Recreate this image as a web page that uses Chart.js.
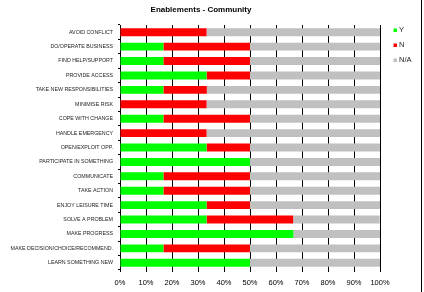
<!DOCTYPE html>
<html><head><meta charset="utf-8">
<script src="https://cdn.jsdelivr.net/npm/chart.js@4/dist/chart.umd.min.js"></script>
<style>html,body{margin:0;padding:0;background:#fff;}canvas{display:block;}</style>
</head><body>
<canvas id="c" width="424" height="292"></canvas>
<script>
const titleText = "Enablements - Community";
const categories = [
  "AVOID CONFLICT","DO/OPERATE BUSINESS","FIND HELP/SUPPORT","PROVIDE ACCESS",
  "TAKE NEW RESPONSIBILITIES","MINIMISE RISK","COPE WITH CHANGE","HANDLE EMERGENCY",
  "OPEN/EXPLOIT OPP.","PARTICIPATE IN SOMETHING","COMMUNICATE","TAKE ACTION",
  "ENJOY LEISURE TIME","SOLVE A PROBLEM","MAKE PROGRESS","MAKE DECISION/CHOICE/RECOMMEND.",
  "LEARN SOMETHING NEW"
];
const seriesNames = ["Y","N","N/A"];
const yValues  = [0,16.7,16.7,33.3,16.7,0,16.7,0,33.3,50,16.7,16.7,33.3,33.3,66.7,16.7,50];
const nValues  = [33.3,33.3,33.3,16.7,16.7,33.3,33.3,33.3,16.7,0,33.3,33.3,16.7,33.3,0,33.3,0];
const naValues = [66.7,50,50,50,66.7,66.7,50,66.7,50,50,50,50,50,33.3,33.3,50,50];
const xTicks = [0,10,20,30,40,50,60,70,80,90,100];

const FONT = "'Liberation Sans', Arial, sans-serif";

const extras = {
  id: 'extras',
  afterDraw(chart) {
    const ctx = chart.ctx;
    ctx.save();
    // title
    ctx.fillStyle = '#000';
    ctx.font = "bold 8px " + FONT;
    ctx.textAlign = 'center';
    ctx.textBaseline = 'middle';
    ctx.fillText(titleText, 201, 10);
    // legend
    const ys = [30, 45, 60];
    ctx.font = "7.5px " + FONT;
    ctx.textAlign = 'left';
    chart.data.datasets.forEach((ds, i) => {
      ctx.fillStyle = ds.backgroundColor;
      ctx.fillRect(393.5, ys[i] - 1.5, 3.5, 3.5);
      ctx.fillStyle = '#222';
      ctx.fillText(ds.label, 399, ys[i]);
    });
    // right frame line
    ctx.strokeStyle = '#000';
    ctx.lineWidth = 1;
    ctx.beginPath();
    ctx.moveTo(421.5, 0);
    ctx.lineTo(421.5, 292);
    ctx.stroke();
    ctx.restore();
  }
};

new Chart(document.getElementById('c'), {
  type: 'bar',
  data: {
    labels: categories,
    datasets: [
      {label: seriesNames[0], data: yValues, backgroundColor: '#00FF00'},
      {label: seriesNames[1], data: nValues, backgroundColor: '#FF0000'},
      {label: seriesNames[2], data: naValues, backgroundColor: '#C0C0C0'}
    ]
  },
  options: {
    indexAxis: 'y',
    responsive: false,
    animation: false,
    events: [],
    datasets: {bar: {categoryPercentage: 0.55, barPercentage: 1, borderWidth: 0}},
    layout: {padding: {left: 0, right: 44, top: 25, bottom: 0}},
    plugins: {legend: {display: false}, title: {display: false}, tooltip: {enabled: false}},
    scales: {
      x: {
        stacked: true,
        min: 0, max: 100,
        afterBuildTicks(s) { s.ticks = xTicks.map(v => ({value: v})); },
        afterFit(s) { s.height = 22; },
        grid: {color: '#000', lineWidth: 1, drawTicks: true, tickLength: 2},
        border: {display: false},
        ticks: {
          callback: v => v + '%',
          color: '#000',
          padding: 6,
          maxRotation: 0,
          font: {family: FONT, size: 7.5}
        }
      },
      y: {
        stacked: true,
        afterFit(s) { s.width = 120; },
        grid: {display: true, drawOnChartArea: false, drawTicks: true, tickLength: 2, color: '#000'},
        border: {display: true, color: '#000', width: 1},
        ticks: {
          color: '#222',
          padding: 5,
          autoSkip: false,
          font: {family: FONT, size: 5.3}
        }
      }
    }
  },
  plugins: [extras]
});
</script>
</body></html>
